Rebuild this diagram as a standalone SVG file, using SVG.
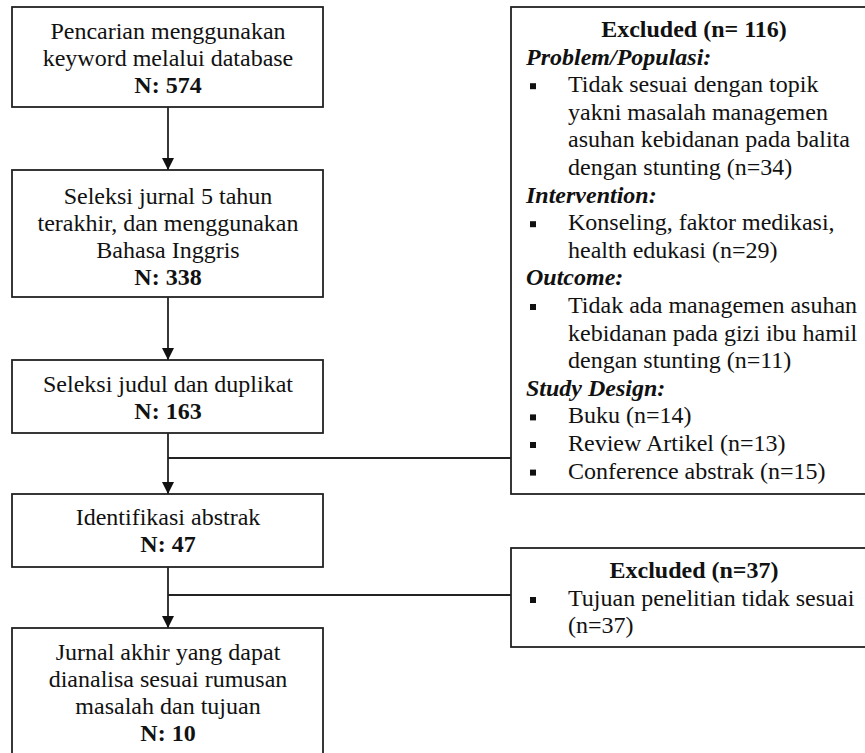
<svg xmlns="http://www.w3.org/2000/svg" width="865" height="753" viewBox="0 0 865 753">
<style>
  .box { fill: #ffffff; stroke: #222222; stroke-width: 1.8; }
  .t { font-family: "Liberation Serif", "Times New Roman", serif; font-size: 24px; fill: #111111; }
  .c { text-anchor: middle; }
  .b { font-weight: bold; }
  .bi { font-weight: bold; font-style: italic; }
  .line { stroke: #222222; stroke-width: 1.8; fill: none; }
  .bul { fill: #111111; }
</style>
<defs>
  <marker id="arr" viewBox="0 0 12 12" refX="12" refY="6" markerWidth="12" markerHeight="12" markerUnits="userSpaceOnUse" orient="auto">
    <path d="M0,0 L12,6 L0,12 Z" fill="#111111"/>
  </marker>
</defs>
<rect width="865" height="753" fill="#ffffff"/>

<g id="connectors">
  <line class="line" x1="168" y1="107" x2="168" y2="170" marker-end="url(#arr)"/>
  <line class="line" x1="168" y1="297" x2="168" y2="360" marker-end="url(#arr)"/>
  <line class="line" x1="168" y1="433" x2="168" y2="494" marker-end="url(#arr)"/>
  <line class="line" x1="168" y1="567" x2="168" y2="628" marker-end="url(#arr)"/>
  <line class="line" x1="168" y1="458" x2="511" y2="458"/>
  <line class="line" x1="168" y1="595" x2="511" y2="595"/>
</g>

<g id="n1">
  <rect class="box" x="12" y="7" width="311" height="100"/>
  <text class="t c" x="168" y="39">Pencarian menggunakan</text>
  <text class="t c" x="168" y="66">keyword melalui database</text>
  <text class="t c b" x="168" y="93">N: 574</text>
</g>

<g id="n2">
  <rect class="box" x="12" y="170" width="311" height="127"/>
  <text class="t c" x="168" y="204">Seleksi jurnal 5 tahun</text>
  <text class="t c" x="168" y="231">terakhir, dan menggunakan</text>
  <text class="t c" x="168" y="258">Bahasa Inggris</text>
  <text class="t c b" x="168" y="285">N: 338</text>
</g>

<g id="n3">
  <rect class="box" x="12" y="360" width="311" height="73"/>
  <text class="t c" x="168" y="392">Seleksi judul dan duplikat</text>
  <text class="t c b" x="168" y="419">N: 163</text>
</g>

<g id="n4">
  <rect class="box" x="12" y="494" width="311" height="73"/>
  <text class="t c" x="168" y="525">Identifikasi abstrak</text>
  <text class="t c b" x="168" y="552">N: 47</text>
</g>

<g id="n5">
  <rect class="box" x="12" y="628" width="311" height="140"/>
  <text class="t c" x="168" y="660">Jurnal akhir yang dapat</text>
  <text class="t c" x="168" y="687">dianalisa sesuai rumusan</text>
  <text class="t c" x="168" y="714">masalah dan tujuan</text>
  <text class="t c b" x="168" y="741">N: 10</text>
</g>

<g id="excluded1">
  <rect class="box" x="511" y="7" width="370" height="487"/>
  <text class="t c b" x="694" y="37">Excluded (n= 116)</text>
  <text class="t bi" x="526" y="64.6">Problem/Populasi:</text>
  <rect class="bul" x="530" y="83.2" width="6" height="6"/>
  <text class="t" x="568" y="92.2">Tidak sesuai dengan topik</text>
  <text class="t" x="568" y="119.8">yakni masalah managemen</text>
  <text class="t" x="568" y="147.4">asuhan kebidanan pada balita</text>
  <text class="t" x="568" y="175">dengan stunting (n=34)</text>
  <text class="t bi" x="526" y="202.6">Intervention:</text>
  <rect class="bul" x="530" y="221.2" width="6" height="6"/>
  <text class="t" x="568" y="230.2">Konseling, faktor medikasi,</text>
  <text class="t" x="568" y="257.8">health edukasi (n=29)</text>
  <text class="t bi" x="526" y="285.4">Outcome:</text>
  <rect class="bul" x="530" y="304" width="6" height="6"/>
  <text class="t" x="568" y="313">Tidak ada managemen asuhan</text>
  <text class="t" x="568" y="340.6">kebidanan pada gizi ibu hamil</text>
  <text class="t" x="568" y="368.2">dengan stunting (n=11)</text>
  <text class="t bi" x="526" y="395.8">Study Design:</text>
  <rect class="bul" x="530" y="414.4" width="6" height="6"/>
  <text class="t" x="568" y="423.4">Buku (n=14)</text>
  <rect class="bul" x="530" y="442" width="6" height="6"/>
  <text class="t" x="568" y="451">Review Artikel (n=13)</text>
  <rect class="bul" x="530" y="469.6" width="6" height="6"/>
  <text class="t" x="568" y="478.6">Conference abstrak (n=15)</text>
</g>

<g id="excluded2">
  <rect class="box" x="511" y="548" width="370" height="99"/>
  <text class="t c b" x="694" y="578">Excluded (n=37)</text>
  <rect class="bul" x="530" y="597" width="6" height="6"/>
  <text class="t" x="568" y="606">Tujuan penelitian tidak sesuai</text>
  <text class="t" x="568" y="633">(n=37)</text>
</g>
</svg>
